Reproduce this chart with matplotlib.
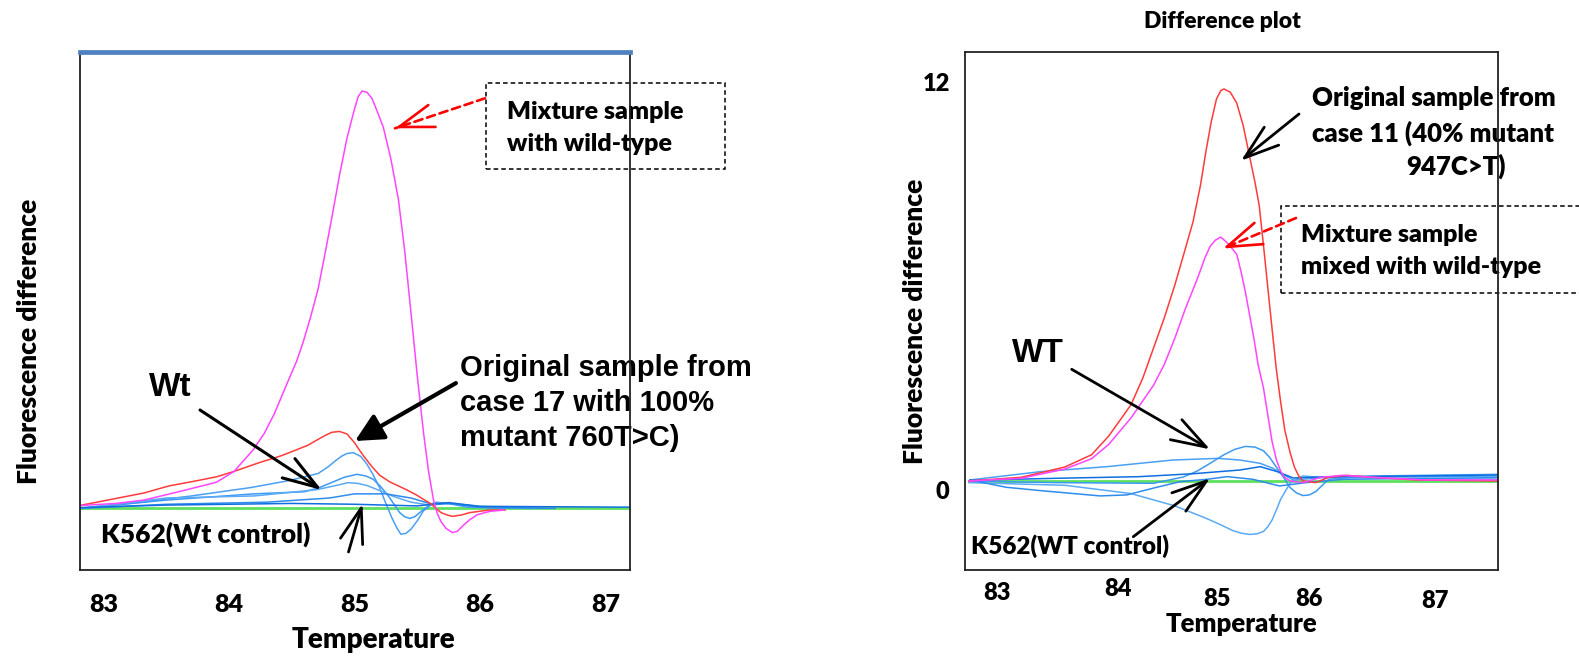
import matplotlib
matplotlib.use("Agg")
import matplotlib.pyplot as plt
from matplotlib.patches import Rectangle
from matplotlib.transforms import ScaledTranslation

# ---------------- data ----------------
temp_ticks = [83, 84, 85, 86, 87]
tick_labels = ["83", "84", "85", "86", "87"]
right_y_ticks = [0, 12]
right_y_labels = ["0", "12"]

# left panel: mixture sample (magenta)
left_mix_t = [82.81, 83.10, 83.32, 83.61, 83.90, 84.04, 84.19, 84.28, 84.36, 84.42, 84.48, 84.54,
              84.59, 84.65, 84.71, 84.77, 84.82, 84.88, 84.94, 85.00, 85.03, 85.06, 85.10, 85.14,
              85.18, 85.23, 85.29, 85.35, 85.40, 85.46, 85.50, 85.55, 85.59, 85.63, 85.66, 85.69,
              85.73, 85.78, 85.82, 85.87, 85.92, 85.98, 86.08, 86.19]
left_mix_v = [0.07, 0.12, 0.20, 0.41, 0.63, 0.89, 1.40, 1.80, 2.27, 2.70, 3.13, 3.55,
              3.99, 4.60, 5.28, 6.20, 7.00, 8.00, 8.90, 9.60, 9.90, 10.03, 10.00, 9.85,
              9.55, 9.16, 8.40, 7.43, 6.20, 4.42, 3.20, 1.83, 0.90, 0.20, -0.12, -0.32,
              -0.48, -0.58, -0.55, -0.40, -0.27, -0.15, -0.07, -0.04]
# left panel: original sample case 17 (red)
left_orig_t = [82.81, 83.03, 83.32, 83.52, 83.75, 83.90, 84.04, 84.24, 84.42, 84.53, 84.63, 84.71,
               84.77, 84.82, 84.88, 84.94, 85.00, 85.04, 85.08, 85.14, 85.20, 85.28, 85.35, 85.42,
               85.49, 85.56, 85.61, 85.65, 85.69, 85.74, 85.78, 85.85, 85.92, 86.07, 86.20]
left_orig_v = [0.07, 0.20, 0.37, 0.54, 0.67, 0.76, 0.89, 1.10, 1.27, 1.40, 1.52, 1.66,
               1.76, 1.83, 1.85, 1.79, 1.58, 1.40, 1.23, 1.00, 0.80, 0.64, 0.54, 0.44,
               0.33, 0.20, 0.11, 0.00, -0.10, -0.16, -0.19, -0.16, -0.10, -0.04, -0.04]
# left panel: wild-type samples (blue)
left_wt1_t = [82.81, 83.30, 83.70, 84.17, 84.48, 84.71, 84.79, 84.85, 84.90, 84.94, 84.99, 85.05,
              85.10, 85.15, 85.20, 85.25, 85.30, 85.34, 85.37, 85.41, 85.45, 85.50, 85.55, 85.60,
              85.65, 85.76, 85.90, 86.20]
left_wt1_v = [0.00, 0.15, 0.30, 0.50, 0.67, 0.84, 1.00, 1.15, 1.26, 1.32, 1.34, 1.25,
              1.06, 0.80, 0.50, 0.12, -0.24, -0.48, -0.62, -0.60, -0.50, -0.30, -0.06, 0.06,
              0.15, 0.11, 0.03, 0.00]
left_wt2_t = [82.81, 83.50, 84.20, 84.60, 84.72, 84.80, 84.92, 85.02, 85.09, 85.15, 85.21, 85.27,
              85.32, 85.36, 85.40, 85.44, 85.48, 85.52, 85.57, 85.62, 85.75, 86.00, 86.40]
left_wt2_v = [0.00, 0.20, 0.35, 0.40, 0.50, 0.60, 0.75, 0.82, 0.78, 0.70, 0.52, 0.30,
              0.08, -0.10, -0.20, -0.24, -0.20, -0.10, 0.02, 0.12, 0.12, 0.03, 0.00]
left_wt3_t = [82.81, 83.50, 84.20, 84.70, 84.85, 84.95, 85.03, 85.10, 85.20, 85.30, 85.45, 85.60,
              85.75, 86.00, 86.50]
left_wt3_v = [0.00, 0.25, 0.30, 0.45, 0.55, 0.62, 0.60, 0.55, 0.43, 0.30, 0.15, 0.08,
              0.12, 0.05, 0.00]
left_wt4_t = [82.81, 83.50, 84.30, 84.80, 85.00, 85.25, 85.45, 85.62, 85.75, 86.00, 86.60]
left_wt4_v = [0.00, 0.10, 0.15, 0.25, 0.35, 0.35, 0.25, 0.10, 0.12, 0.03, 0.00]
left_wt5_t = [82.81, 83.50, 84.50, 85.00, 85.50, 85.75, 86.00, 87.20]
left_wt5_v = [0.02, 0.08, 0.12, 0.10, 0.06, 0.14, 0.05, 0.03]
# left panel: K562 control (green)
left_ctrl_t = [82.81, 87.20]
left_ctrl_v = [0.0, 0.0]

# right panel: original sample case 11 (red)
right_orig_t = [82.69, 83.18, 83.59, 83.84, 84.00, 84.10, 84.21, 84.32, 84.42, 84.52, 84.62, 84.71,
                84.79, 84.86, 84.91, 84.96, 85.01, 85.05, 85.08, 85.14, 85.20, 85.26, 85.32, 85.37,
                85.41, 85.45, 85.49, 85.53, 85.57, 85.61, 85.65, 85.70, 85.74, 85.78, 85.82, 85.94,
                86.06, 86.23, 86.47, 86.88, 87.65]
right_orig_v = [0.00, 0.11, 0.42, 0.79, 1.35, 1.80, 2.30, 3.10, 4.00, 4.90, 5.90, 6.90,
                7.80, 8.90, 9.90, 10.80, 11.50, 11.75, 11.80, 11.70, 11.37, 10.70, 9.77, 9.00,
                8.30, 7.10, 5.84, 4.60, 3.38, 2.40, 1.53, 0.85, 0.42, 0.15, 0.00, -0.05,
                0.11, 0.17, 0.11, 0.03, 0.00]
# right panel: mixture sample (magenta)
right_mix_t = [82.69, 83.18, 83.59, 83.84, 84.00, 84.21, 84.42, 84.52, 84.62, 84.72, 84.83, 84.90,
               84.95, 85.00, 85.05, 85.10, 85.14, 85.20, 85.24, 85.28, 85.32, 85.36, 85.40, 85.45,
               85.49, 85.53, 85.57, 85.61, 85.65, 85.70, 85.82, 85.99, 86.19, 86.47, 86.97, 87.65]
right_mix_v = [0.00, 0.08, 0.36, 0.67, 1.10, 1.90, 2.88, 3.50, 4.30, 5.20, 6.08, 6.70,
               7.06, 7.25, 7.34, 7.20, 7.06, 6.82, 6.30, 5.70, 5.00, 4.30, 3.50, 2.80,
               2.00, 1.20, 0.65, 0.30, 0.10, 0.00, -0.05, 0.11, 0.17, 0.11, 0.03, 0.03]
# right panel: wild-type samples (blue)
right_wt1_t = [82.70, 83.36, 83.98, 84.60, 85.02, 85.23, 85.42, 85.54, 85.64, 85.73, 86.00, 86.50, 87.65]
right_wt1_v = [0.03, 0.28, 0.43, 0.63, 0.68, 0.63, 0.53, 0.38, 0.18, 0.03, 0.10, 0.15, 0.20]
right_wt2_t = [82.70, 83.50, 84.42, 84.70, 84.83, 84.96, 85.08, 85.18, 85.28, 85.37, 85.45, 85.51,
               85.57, 85.64, 85.70, 85.76, 85.82, 85.88, 85.94, 86.06, 86.27, 87.65]
right_wt2_v = [0.00, -0.05, -0.07, 0.12, 0.30, 0.55, 0.79, 0.95, 1.04, 1.02, 0.91, 0.70,
               0.42, 0.10, -0.20, -0.36, -0.44, -0.42, -0.32, 0.05, 0.11, 0.15]
right_wt3_t = [82.69, 83.59, 84.21, 84.62, 84.91, 85.05, 85.16, 85.24, 85.32, 85.39, 85.45, 85.49,
               85.53, 85.57, 85.61, 85.66, 85.70, 85.76, 85.82, 85.98, 87.65]
right_wt3_v = [-0.05, -0.13, -0.38, -0.75, -1.12, -1.32, -1.49, -1.57, -1.61, -1.59, -1.52, -1.38,
               -1.18, -0.88, -0.56, -0.28, -0.07, 0.07, 0.15, 0.11, 0.05]
right_wt4_t = [82.70, 83.04, 83.36, 83.92, 84.17, 84.45, 84.67, 84.92, 85.11, 85.35, 85.60, 85.85,
               86.20, 87.65]
right_wt4_v = [0.03, -0.19, -0.29, -0.45, -0.42, -0.19, -0.02, 0.05, 0.13, 0.05, -0.15, -0.05,
               0.05, 0.10]
right_wt5_t = [82.70, 83.50, 84.29, 84.80, 85.23, 85.42, 85.58, 85.73, 86.00, 87.65]
right_wt5_v = [0.02, 0.08, 0.13, 0.22, 0.33, 0.43, 0.28, 0.09, 0.12, 0.18]
# right panel: K562 control (green)
right_ctrl_t = [82.69, 87.65]
right_ctrl_v = [0.0, 0.0]

# ---------------- styling / layout ----------------
W, H = 1579, 659
CAL = "Lato"              # Calibri-like bold text
ARI = "Liberation Sans"   # Arial-like bold text
HEAVY = "heavy"
C_RED = "#ff3b3b"
C_MAG = "#ff45ff"
C_GRN = "#5ee05e"
BLUES = ["#4aa0f5", "#3d9af2", "#5aaaf5", "#2f8cec", "#0f6fe0"]

fig = plt.figure(figsize=(W / 100, H / 100), dpi=100)


def F(x, y):
    return (x / W, 1 - y / H)


def add_axes(x0, y0, x1, y1):
    return fig.add_axes([x0 / W, 1 - y1 / H, (x1 - x0) / W, (y1 - y0) / H])


axL = add_axes(79.6, 52.4, 630.4, 570)
axR = add_axes(965, 52.4, 1498.3, 570)

# ---- left panel curves ----
axL.plot(left_ctrl_t, left_ctrl_v, color=C_GRN, lw=2.0, zorder=1)
for (t, v), c in zip([(left_wt1_t, left_wt1_v), (left_wt2_t, left_wt2_v), (left_wt3_t, left_wt3_v),
                      (left_wt4_t, left_wt4_v), (left_wt5_t, left_wt5_v)], BLUES):
    axL.plot(t, v, color=c, lw=1.1, zorder=2)
axL.plot(left_orig_t, left_orig_v, color=C_RED, lw=1.1, zorder=2)
axL.plot(left_mix_t, left_mix_v, color=C_MAG, lw=1.1, zorder=2)
axL.set_xlim(82.808, 87.2)
axL.set_ylim(-1.48, 10.96)

# ---- right panel curves ----
axR.plot(right_ctrl_t, right_ctrl_v, color=C_GRN, lw=2.0, zorder=1)
for (t, v), c in zip([(right_wt1_t, right_wt1_v), (right_wt2_t, right_wt2_v), (right_wt3_t, right_wt3_v),
                      (right_wt4_t, right_wt4_v), (right_wt5_t, right_wt5_v)], BLUES):
    axR.plot(t, v, color=c, lw=1.1, zorder=2)
axR.plot(right_orig_t, right_orig_v, color=C_RED, lw=1.1, zorder=2)
axR.plot(right_mix_t, right_mix_v, color=C_MAG, lw=1.1, zorder=2)
axR.set_xlim(82.654, 87.65)
axR.set_ylim(-2.68, 12.9)

# ---- spines ----
for ax in (axL, axR):
    for s in ax.spines.values():
        s.set_color("#222222")
        s.set_linewidth(1.3)
axL.spines["top"].set_color("#4f80c0")
axL.spines["top"].set_linewidth(3.4)

# ---- ticks ----
axL.set_xticks(temp_ticks)
axL.set_xticklabels(tick_labels, family=CAL, weight=HEAVY, size=18)
axL.set_yticks([])
axL.tick_params(axis="x", length=0, pad=17)

axR.set_xticks(temp_ticks)
axR.set_xticklabels(tick_labels, family=CAL, weight=HEAVY, size=17)
axR.set_yticks(right_y_ticks)
axR.set_yticklabels(right_y_labels, family=CAL, weight=HEAVY, size=17)
axR.tick_params(axis="both", length=0)
axR.tick_params(axis="x", pad=9)
axR.tick_params(axis="y", pad=11)

# individual label nudges (pixels, +x right, +y down) to follow the picture
r_dx = [-5, 9, 2, -13, 6]
r_dy = [0, -4, 5, 6, 8]
for lab, dx, dy in zip(axR.get_xticklabels(), r_dx, r_dy):
    lab.set_transform(lab.get_transform() + ScaledTranslation(dx / 100, -dy / 100, fig.dpi_scale_trans))
ylabs = axR.get_yticklabels()
ylabs[0].set_transform(ylabs[0].get_transform() + ScaledTranslation(0, -9 / 100, fig.dpi_scale_trans))


# ---- texts (drawn under the axes frame, like the picture) ----
def T(ax, x, y, s, **kw):
    kw.setdefault("zorder", 2)
    kw.setdefault("clip_on", False)
    return ax.text(*F(x, y), s, transform=fig.transFigure, **kw)


T(axL, 29, 341, "Fluorescence difference", rotation=90, ha="center", va="center",
  family=CAL, weight=HEAVY, size=19)
T(axL, 373, 640, "Temperature", ha="center", va="center", family=CAL, weight=HEAVY, size=20)
T(axR, 915, 321, "Fluorescence difference", rotation=90, ha="center", va="center",
  family=CAL, weight=HEAVY, size=19)
T(axR, 1241, 624, "Temperature", ha="center", va="center", family=CAL, weight=HEAVY, size=18.5)
T(axR, 1222, 22, "Difference plot", ha="center", va="center", family=CAL, weight=HEAVY, size=16.5)

# ---- left annotations ----
T(axL, 170, 388, "Wt", ha="center", va="center", family=ARI, weight="bold", size=24)
T(axL, 460.5, 403, "Original sample from\ncase 17 with 100%\nmutant 760T>C)", ha="left", va="center",
  family=ARI, weight="bold", size=21, linespacing=1.3)
T(axL, 101, 534, "K562(Wt control)", ha="left", va="center", family=CAL, weight=HEAVY, size=19)
T(axL, 507, 128, "Mixture sample\nwith wild-type", ha="left", va="center", family=CAL,
  weight=HEAVY, size=18, linespacing=1.55)
axL.add_patch(Rectangle(F(486, 169.3), (725 - 486) / W, (169.3 - 82.7) / H, transform=fig.transFigure,
                        fill=False, ec="black", lw=1.1, ls=(0, (3, 2)), clip_on=False, zorder=2))

# ---- right annotations ----
T(axR, 1038, 354, "WT", ha="center", va="center", family=ARI, weight="bold", size=24)
T(axR, 1312, 116, "Original sample from\ncase 11 (40% mutant", ha="left", va="center",
  family=CAL, weight=HEAVY, size=18.5, linespacing=1.5)
T(axR, 1506, 166, "947C>T)", ha="right", va="center", family=CAL, weight=HEAVY, size=18.5)
T(axR, 1301, 251, "Mixture sample\nmixed with wild-type", ha="left", va="center", family=CAL,
  weight=HEAVY, size=18, linespacing=1.5)
T(axR, 971, 546, "K562(WT control)", ha="left", va="center", family=CAL, weight=HEAVY, size=17.5)
axR.add_patch(Rectangle(F(1280.7, 293.3), (1610 - 1280.7) / W, (293.3 - 206) / H, transform=fig.transFigure,
                        fill=False, ec="black", lw=1.1, ls=(0, (3, 2)), clip_on=False, zorder=2))

# ---- arrows ----
OPEN_HEAD = "->,head_length=25,head_width=8.3"


def arrow(ax, start, tip, color="black", lw=2.0, dashed=False, style=OPEN_HEAD):
    if dashed:
        ax.annotate("", xy=F(*tip), xytext=F(*start), xycoords="figure fraction",
                    textcoords="figure fraction", annotation_clip=False,
                    arrowprops=dict(arrowstyle="-", color=color, lw=lw, ls=(0, (3.2, 1.8)),
                                    shrinkA=0, shrinkB=0, clip_on=False))
        dx, dy = start[0] - tip[0], start[1] - tip[1]
        n = (dx * dx + dy * dy) ** 0.5
        start = (tip[0] + dx / n * 6, tip[1] + dy / n * 6)
    ax.annotate("", xy=F(*tip), xytext=F(*start), xycoords="figure fraction",
                textcoords="figure fraction", annotation_clip=False,
                arrowprops=dict(arrowstyle=style, color=color, fc=color, lw=lw, mutation_scale=1,
                                shrinkA=0, shrinkB=0, clip_on=False))


arrow(axL, (200, 410), (321.7, 490), lw=2.2)
arrow(axL, (348.5, 552), (362.5, 503.8), lw=2.0)
arrow(axL, (455.9, 383.1), (355, 441), lw=3.0, style="-|>,head_length=17,head_width=8.5")
arrow(axL, (485, 98.3), (395, 128.3), color="red", lw=1.9, dashed=True)

arrow(axR, (1299, 114), (1241, 160.7), lw=2.0)
arrow(axR, (1296, 218), (1223, 248.5), color="red", lw=1.9, dashed=True)
arrow(axR, (1071.7, 369.3), (1210, 449.3), lw=2.0)
arrow(axR, (1133.3, 536.7), (1210, 478.3), lw=2.0)

fig.savefig("out.png", dpi=100)
